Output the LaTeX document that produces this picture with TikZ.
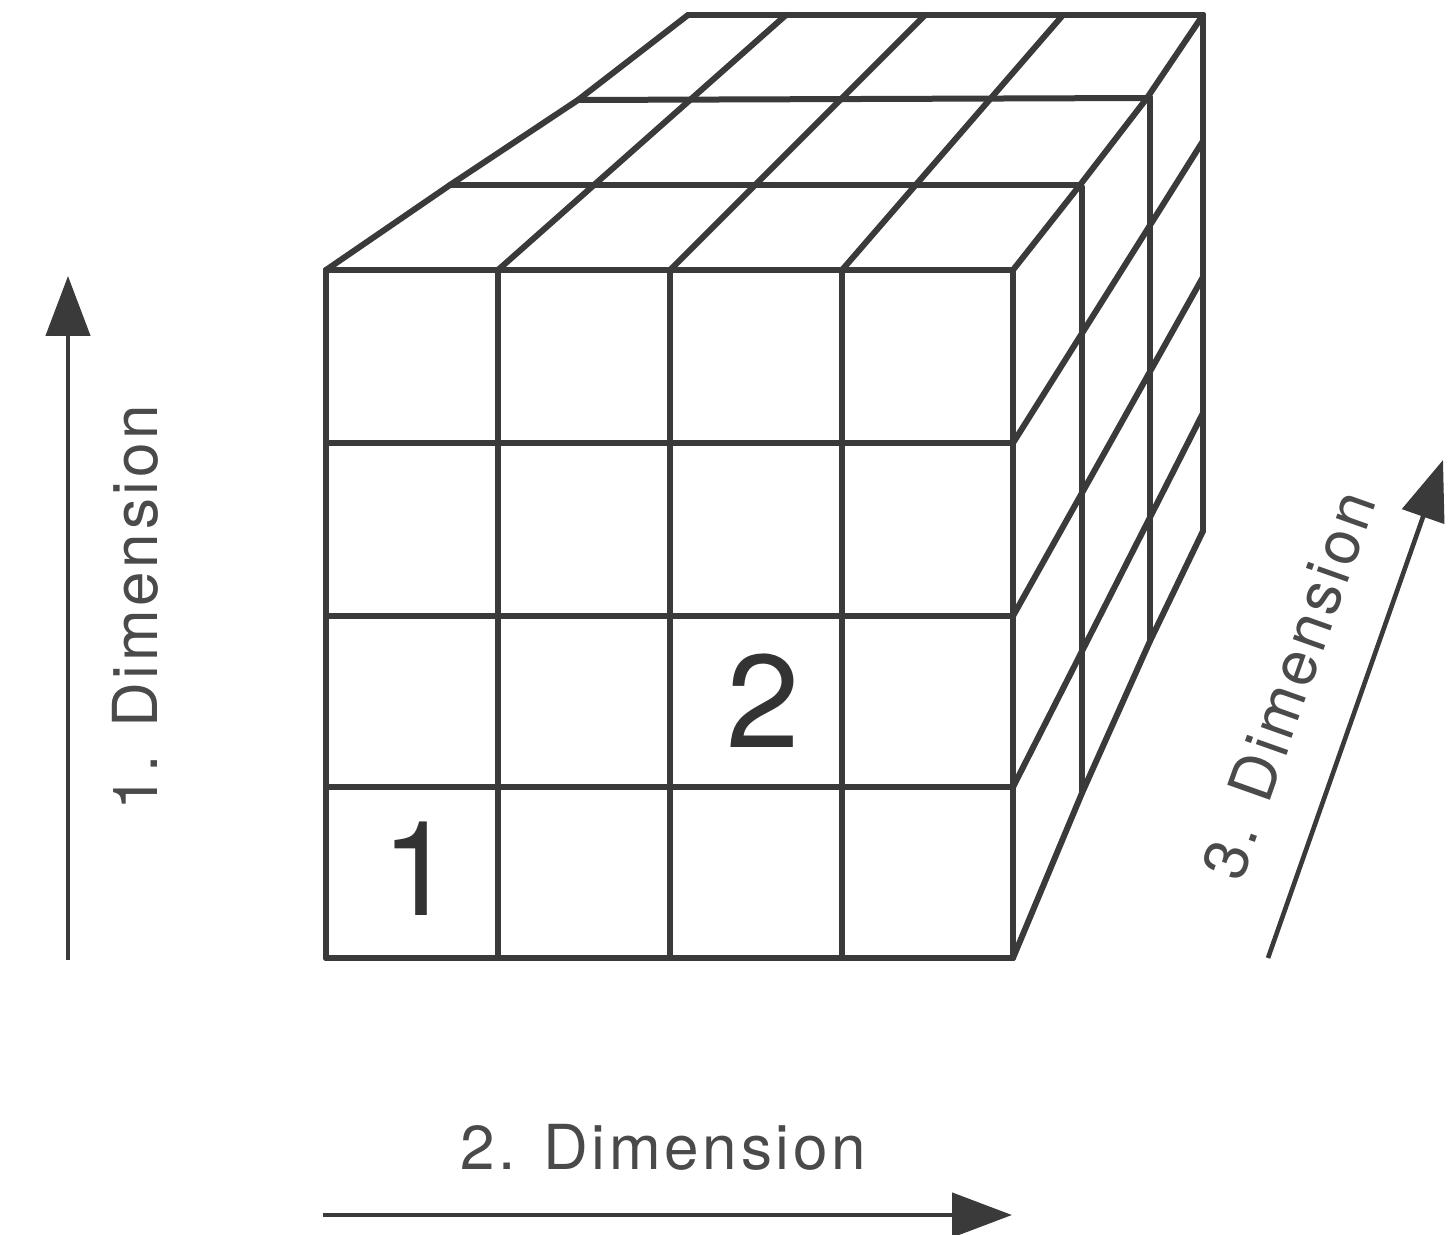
\documentclass[tikz,border=0pt]{standalone}
\usepackage{fontspec}
\usetikzlibrary{arrows.meta}
\newfontfamily\labfont[LetterSpace=6]{TeX Gyre Heros}
\newfontfamily\numfont{TeX Gyre Heros}
\definecolor{edge}{HTML}{3A3A3A}
\definecolor{labgray}{HTML}{4A4A4A}
\definecolor{numgray}{HTML}{333333}
\begin{document}
\begin{tikzpicture}[x=0.5pt,y=-0.5pt,
  grid/.style={draw=edge,line width=3pt,line cap=round,line join=round},
  axis/.style={draw=edge,line width=2.3pt,-{Triangle[length=30pt,width=22pt]}},
  dimlabel/.style={font=\labfont\fontsize{31}{31}\selectfont,text=labgray,inner sep=0pt},
  numlabel/.style={font=\numfont\fontsize{66}{66}\selectfont,text=numgray,inner sep=0pt,anchor=base west}]
\useasboundingbox[fill=white] (0,0) rectangle (1455,1235);
% front face
\foreach \x in {326,498,670,842,1013} \draw[grid] (\x,270) -- (\x,958);
\foreach \y in {270,443,616,787,958} \draw[grid] (326,\y) -- (1013,\y);
% top face
\draw[grid] (450,185) -- (1080,185);
\draw[grid] (578,100) -- (1147,98);
\draw[grid] (688,15) -- (1203,15);
\draw[grid] (326,270) -- (450,185) -- (578,100) -- (688,15);
\draw[grid] (498,270) -- (786,15);
\draw[grid] (670,270) -- (925,15);
\draw[grid] (842,270) -- (1063,15);
\draw[grid] (1013,270) -- (1080,185) -- (1147,98) -- (1203,15);
% right face
\draw[grid] (1082,187) -- (1082,793);
\draw[grid] (1150,97) -- (1150,641);
\draw[grid] (1203,15) -- (1203,531);
\draw[grid] (1013,958) -- (1082,793) -- (1150,641) -- (1203,531);
\draw[grid] (1013,443) -- (1203,141);
\draw[grid] (1013,616) -- (1203,277);
\draw[grid] (1013,787) -- (1203,413);
% numbers
\node[numlabel] (n1) at (381,915) {1};
\node[numlabel] (n2) at (726,747) {2};
% axes
\coordinate (a1s) at (68,960);
\coordinate (a1e) at (68,276);
\coordinate (a2s) at (323,1215);
\coordinate (a2e) at (1012,1215);
\coordinate (a3s) at (1268,958);
\coordinate (a3e) at (1443,460);
\draw[axis] (a1s) -- (a1e);
\draw[axis] (a2s) -- (a2e);
\draw[axis] (a3s) -- (a3e);
\node[dimlabel,rotate=90] (l1) at (135,608) {1. Dimension};
\node[dimlabel] (l2) at (663,1147) {2. Dimension};
\node[dimlabel,rotate=70.5] (l3) at (1288,685) {3. Dimension};
\end{tikzpicture}
\end{document}
